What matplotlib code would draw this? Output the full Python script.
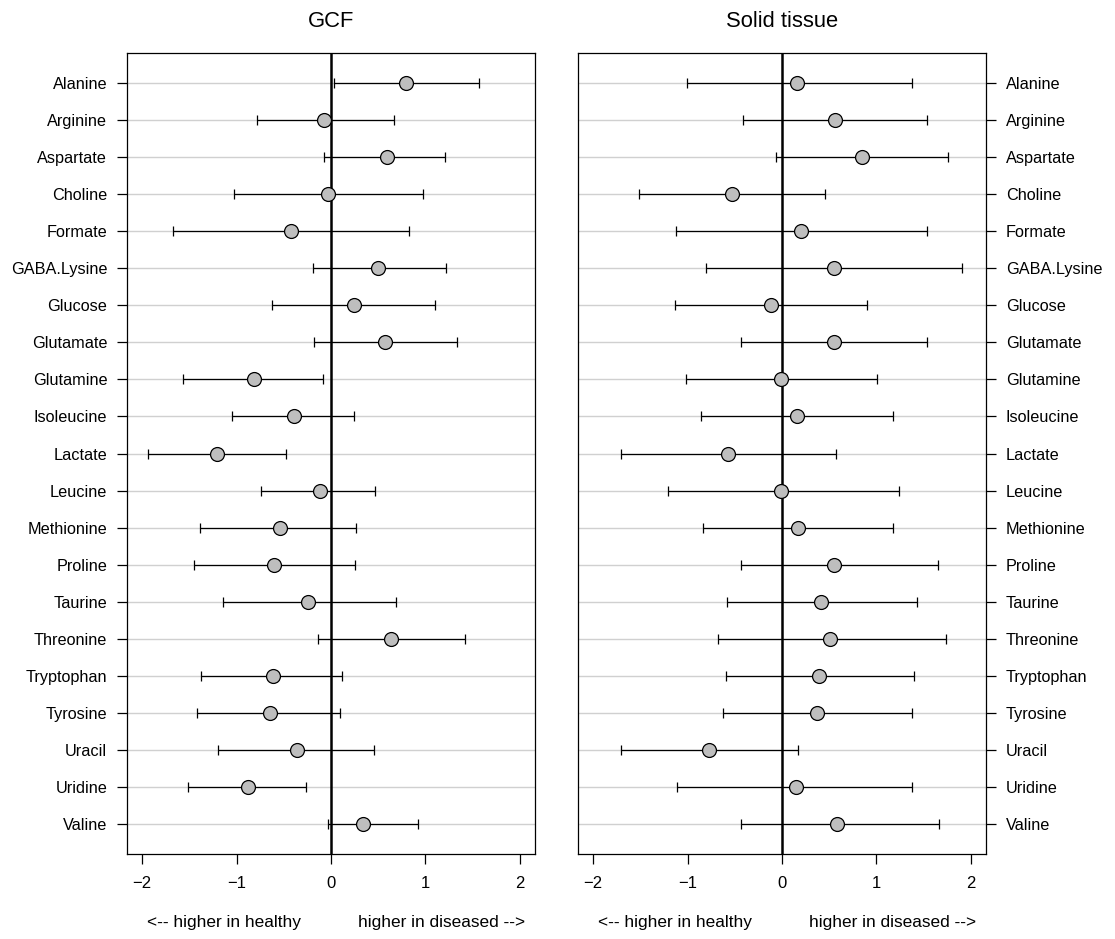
import matplotlib
matplotlib.use("Agg")
import matplotlib.pyplot as plt
import matplotlib.transforms as mtransforms

plt.rcParams['font.family'] = ['Liberation Sans', 'DejaVu Sans']

metabolites = ["Alanine", "Arginine", "Aspartate", "Choline", "Formate", "GABA.Lysine",
               "Glucose", "Glutamate", "Glutamine", "Isoleucine", "Lactate", "Leucine",
               "Methionine", "Proline", "Taurine", "Threonine", "Tryptophan", "Tyrosine",
               "Uracil", "Uridine", "Valine"]

gcf_est = [0.79, -0.07, 0.59, -0.03, -0.42, 0.50, 0.24, 0.57, -0.82, -0.39, -1.21, -0.12,
           -0.54, -0.60, -0.24, 0.64, -0.61, -0.65, -0.36, -0.88, 0.34]
gcf_low = [0.03, -0.78, -0.07, -1.03, -1.67, -0.19, -0.62, -0.18, -1.57, -1.05, -1.94, -0.74,
           -1.39, -1.45, -1.14, -0.14, -1.38, -1.42, -1.20, -1.51, -0.03]
gcf_high = [1.57, 0.67, 1.21, 0.97, 0.83, 1.22, 1.10, 1.33, -0.09, 0.24, -0.48, 0.47,
            0.26, 0.25, 0.69, 1.42, 0.12, 0.09, 0.46, -0.27, 0.92]

tis_est = [0.16, 0.56, 0.85, -0.53, 0.20, 0.55, -0.12, 0.55, -0.01, 0.16, -0.57, -0.01,
           0.17, 0.55, 0.41, 0.51, 0.39, 0.37, -0.77, 0.15, 0.58]
tis_low = [-1.01, -0.41, -0.06, -1.51, -1.12, -0.81, -1.13, -0.43, -1.02, -0.86, -1.71, -1.21,
           -0.84, -0.43, -0.58, -0.68, -0.59, -0.63, -1.71, -1.11, -0.43]
tis_high = [1.38, 1.54, 1.76, 0.45, 1.53, 1.91, 0.90, 1.53, 1.01, 1.17, 0.57, 1.24,
            1.18, 1.65, 1.43, 1.74, 1.40, 1.38, 0.17, 1.38, 1.66]

panel_titles = ["GCF", "Solid tissue"]
x_ticks = [-2, -1, 0, 1, 2]
left_note = "<-- higher in healthy"
right_note = "higher in diseased -->"

W, H = 1115, 939
fig = plt.figure(figsize=(W / 100, H / 100), dpi=100)

top_px, bot_px = 53, 854
axes_px = [(127, 535), (578, 986)]

n = len(metabolites)
ypos = list(range(n, 0, -1))  # Alanine on top

datasets = [(gcf_est, gcf_low, gcf_high), (tis_est, tis_low, tis_high)]
fs_y = 11.7
fs_x = 12
fs_note = 12.4
tick_len = 7.2

for i, ((l, r), title, (est, low, high)) in enumerate(zip(axes_px, panel_titles, datasets)):
    ax = fig.add_axes([l / W, 1 - bot_px / H, (r - l) / W, (bot_px - top_px) / H])
    ax.set_xlim(-2.16, 2.16)
    ax.set_ylim(0.2, n + 0.8)
    for y in ypos:
        ax.axhline(y, color="#d0d0d0", lw=1.0, zorder=1)
    ax.axvline(0, color="black", lw=1.8, zorder=2)
    xerr = [[e - lo for e, lo in zip(est, low)], [hi - e for e, hi in zip(est, high)]]
    ax.errorbar(est, ypos, xerr=xerr, fmt="none", ecolor="black", elinewidth=0.9,
                capsize=3.4, capthick=0.9, zorder=3)
    ax.plot(est, ypos, "o", ms=10, mfc="#bebebe", mec="black", mew=0.9, zorder=4)

    ax.set_xticks(x_ticks)
    ax.set_xticklabels([str(t).replace("-", "\u2212") for t in x_ticks])
    ax.set_yticks(ypos)
    ax.set_yticklabels(metabolites)
    ax.tick_params(axis="x", length=tick_len, width=0.9, pad=9, labelsize=fs_x, direction="out")
    if i == 0:
        ax.tick_params(axis="y", length=tick_len, width=0.9, pad=7, labelsize=fs_y, direction="out",
                       left=True, labelleft=True, right=False, labelright=False)
    else:
        ax.tick_params(axis="y", length=tick_len, width=0.9, pad=7, labelsize=fs_y, direction="out",
                       left=False, labelleft=False, right=True, labelright=True)
    for sp in ax.spines.values():
        sp.set_linewidth(0.9)
        sp.set_color("black")
    ax.set_title(title, fontsize=15.8, pad=18.5)

    trans = mtransforms.blended_transform_factory(ax.transData, ax.transAxes)
    yfrac = (bot_px - 922) / (bot_px - top_px)
    ax.text(-1.95, yfrac, left_note, transform=trans, ha="left", va="center", fontsize=fs_note)
    ax.text(2.06, yfrac, right_note, transform=trans, ha="right", va="center", fontsize=fs_note)

fig.savefig("out.png", dpi=100)
